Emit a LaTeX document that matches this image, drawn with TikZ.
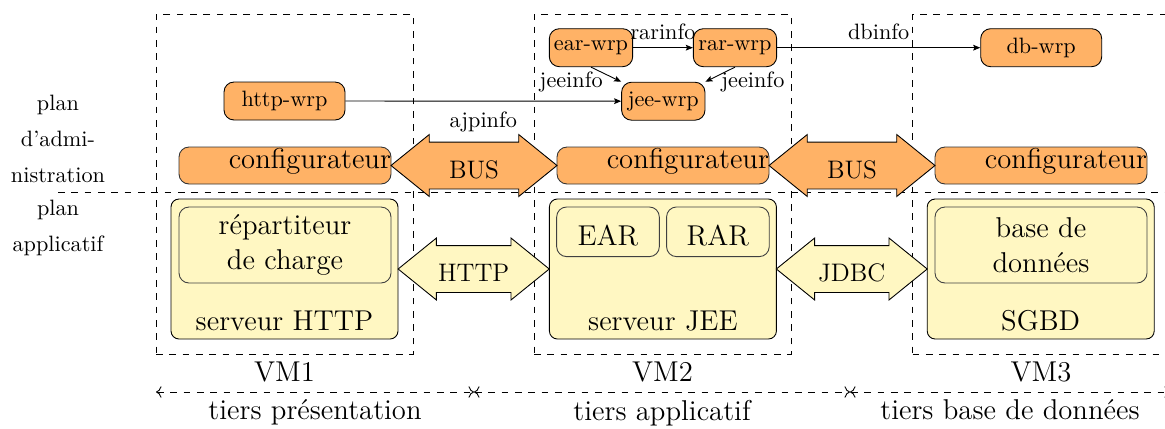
\documentclass[tikz,border=0pt]{standalone}
\usetikzlibrary{shapes.arrows,arrows.meta,calc}
\definecolor{orng}{RGB}{255,178,102}
\definecolor{ylw}{RGB}{255,247,194}
\newcommand{\fsmall}{\fontsize{10}{16.2}\selectfont}
\newcommand{\fmid}{\fontsize{11.4}{13.7}\selectfont}
\newcommand{\fbig}{\fontsize{12.9}{16}\selectfont}
\begin{document}
\begin{tikzpicture}[x=0.45pt,y=-0.45pt,
  wrp/.style={draw, fill=orng, rounded corners=4.5pt, font=\fsmall, inner sep=0pt, minimum height=17.1pt},
  conf/.style={draw=black!80, fill=orng, rounded corners=4.5pt, font=\fbig, text width=95.4pt, align=right, inner sep=0pt, text height=9.45pt, text depth=7.2pt},
  vmbox/.style={draw, dashed, minimum width=115.65pt, minimum height=153pt, inner sep=0pt},
  srv/.style={draw, fill=ylw, rounded corners=3.6pt, font=\fbig, minimum width=102.15pt, inner sep=0pt, text height=58.95pt, text depth=4.05pt},
  subbox/.style={draw=black!75, fill=ylw, rounded corners=4.5pt, font=\fbig, inner sep=0pt},
  busarr/.style={double arrow, draw, fill=orng, minimum width=27.45pt, double arrow head extend=3.4pt, double arrow tip angle=78, inner xsep=0pt, inner ysep=4.65pt, font=\fmid, text height=11.4pt, text depth=0pt},
  protoarr/.style={busarr, fill=ylw},
  link/.style={-{Stealth[length=3.2pt,width=2.6pt,inset=0.6pt]}},
  tier/.style={dashed, <->},
  lbl/.style={font=\fsmall},
]
\useasboundingbox (0,0) rectangle (1165,428);
\clip (0,0) rectangle (1165,428);

% separator and tiers axis
\coordinate (sepL) at (58,192);
\coordinate (sepR) at (1172,192);
\draw[dashed] (sepL) -- (sepR);

\coordinate (t0) at (156,392);
\coordinate (t1) at (474,392);
\coordinate (t2) at (850,392);
\coordinate (t3) at (1170,392);
\draw[tier] (t0) -- node[below, font=\fbig] {tiers présentation} (t1);
\draw[tier] (t1) -- node[below, font=\fbig] {tiers applicatif} (t2);
\draw[tier] (t2) -- node[below, font=\fbig] {tiers base de données} (t3);

% VM frames
\node[vmbox, label={[font=\fbig]below:VM1}] (vm1) at (284.5,184) {};
\node[vmbox, label={[font=\fbig]below:VM2}] (vm2) at (662.5,184) {};
\node[vmbox, label={[font=\fbig]below:VM3}] (vm3) at (1041,184) {};

% plane labels
\node[lbl, align=center] (admin) at (58,138.5) {plan\\d'admi-\\nistration};
\node[lbl, align=center] (applic) at (58,228.3) {plan\\applicatif};

% wrappers
\node[wrp, minimum width=54.45pt] (http-wrp) at (284.5,101) {http-wrp};
\node[wrp, minimum width=37.5pt] (ear-wrp) at (591,47.7) {ear-wrp};
\node[wrp, minimum width=37.5pt] (rar-wrp) at (735,47.7) {rar-wrp};
\node[wrp, minimum width=37.5pt] (jee-wrp) at (663.3,101.2) {jee-wrp};
\node[wrp, minimum width=54.45pt] (db-wrp) at (1041.2,47.7) {db-wrp};

% configurators
\node[conf] (conf1) at (285,165.5) {configurateur};
\node[conf] (conf2) at (663,165.5) {configurateur};
\node[conf] (conf3) at (1041,165.5) {configurateur};

\node[busarr, minimum height=74.7pt] (bus1) at ($(conf1.east)!0.5!(conf2.west)$) {BUS};
\node[busarr, minimum height=74.7pt] (bus2) at ($(conf2.east)!0.5!(conf3.west)$) {BUS};

% servers
\node[srv] (srvhttp) at (284.5,269) {serveur HTTP};
\node[srv] (srvjee) at (662.9,269) {serveur JEE};
\node[srv] (sgbd) at (1040.7,269) {SGBD};

\node[subbox, minimum width=95.4pt, minimum height=34.2pt, align=center] (rep) at (285,245) {répartiteur\\de charge};
\node[subbox, minimum width=46.2pt, text height=17.4pt, text depth=4.95pt] (ear) at (608,231.8) {EAR};
\node[subbox, minimum width=46.2pt, text height=17.4pt, text depth=4.95pt] (rar) at (717.9,231.8) {RAR};
\node[subbox, minimum width=95.4pt, minimum height=34.2pt, align=center] (bdd) at (1041,245) {base de\\données};

\node[protoarr, minimum height=68pt] (http) at ($(srvhttp.east)!0.5!(srvjee.west)$) {HTTP};
\node[protoarr, minimum height=67.9pt] (jdbc) at ($(srvjee.east)!0.5!(sgbd.west)$) {JDBC};

% links
\draw[link] (http-wrp) -- node[lbl, below=1.5pt] {ajpinfo} (jee-wrp);
\draw[link] (ear-wrp) -- node[lbl, above] {rarinfo} (rar-wrp);
\draw[link] (rar-wrp) -- node[lbl, above] {dbinfo} (db-wrp);
\draw[link] (ear-wrp.south) -- node[lbl, left, xshift=2pt, yshift=-3.5pt] {jeeinfo} (jee-wrp.north west);
\draw[link] (rar-wrp.south) -- node[lbl, right, xshift=-3pt, yshift=-3.5pt] {jeeinfo} (jee-wrp.north east);
\end{tikzpicture}
\end{document}
